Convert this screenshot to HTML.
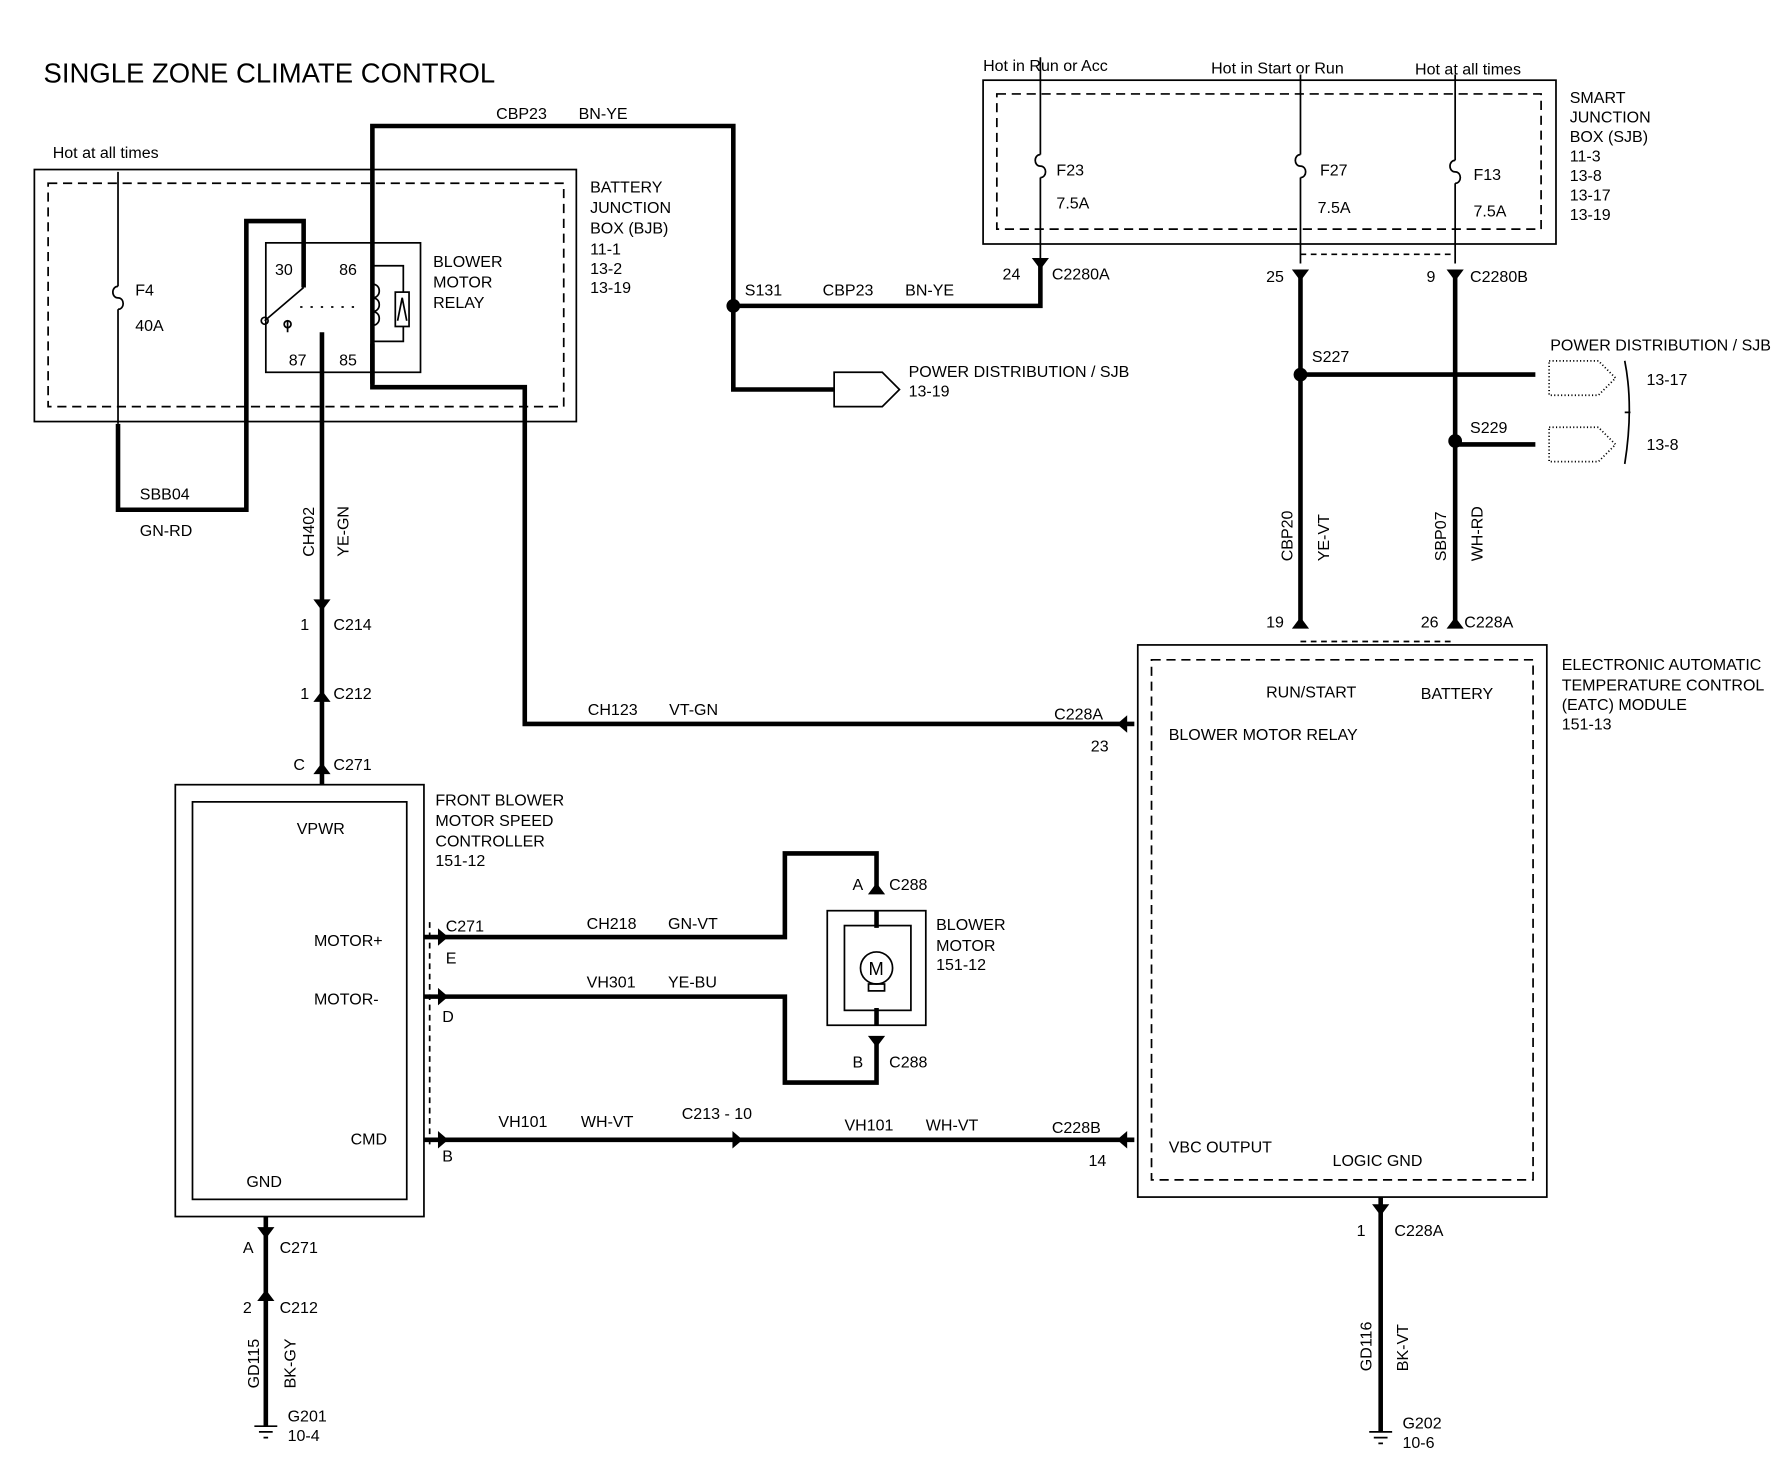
<!DOCTYPE html>
<html><head><style>body{margin:0;background:#fff}svg{display:block}</style></head><body>
<svg width="1784" height="1472" viewBox="0 0 1557 1285" preserveAspectRatio="none" xmlns="http://www.w3.org/2000/svg" font-family="Liberation Sans, sans-serif" font-size="14" font-stretch="condensed" fill="#000">
<g fill="none" stroke="#000" stroke-width="1.5">
<rect x="30" y="148" width="473" height="220"/>
<rect x="42" y="160" width="450" height="195" stroke-dasharray="8,5"/>
<rect x="232" y="212" width="135" height="113"/>
<rect x="345" y="255" width="12" height="30"/>
<path d="M325,232 H352 V255 M352,285 V298 H325"/>
<path d="M325,248 c8,0 8,12 0,12 c8,0 8,12 0,12 c8,0 8,12 0,12"/>
<path d="M347,280 l4,-20 l4,20"/>
<path d="M265,251 L231,280 M251,280 V290" />
<circle cx="231" cy="280" r="3"/><circle cx="251" cy="283" r="3"/>
<path d="M262,268 H310" stroke-dasharray="2,7"/>
<rect x="858" y="70" width="500" height="143"/>
<rect x="870" y="82" width="475" height="118" stroke-dasharray="8,5"/>
<path d="M103,150 V250 M103,270 V370"/>
<path d="M103,250 c-6,0 -6,10 0,10 M103,260 c6,0 6,10 0,10"/>
<path d="M908,50 V135 M908,155 V230"/>
<path d="M908,135 c-6,0 -6,10 0,10 M908,145 c6,0 6,10 0,10"/>
<path d="M1135,65 V135 M1135,155 V230"/>
<path d="M1135,135 c-6,0 -6,10 0,10 M1135,145 c6,0 6,10 0,10"/>
<path d="M1270,65 V140 M1270,160 V230"/>
<path d="M1270,140 c-6,0 -6,10 0,10 M1270,150 c6,0 6,10 0,10"/>
<path d="M1135,222 H1270 M1135,560 H1270" stroke-dasharray="5,4"/>
<rect x="153" y="685" width="217" height="377"/>
<rect x="168" y="700" width="187" height="347"/>
<path d="M375,805 V1000" stroke-dasharray="5,4"/>
<rect x="722" y="795" width="86" height="100"/>
<rect x="737" y="808" width="58" height="74"/>
<circle cx="765" cy="845" r="14"/>
<rect x="758" y="859" width="14" height="6"/>
<rect x="993" y="563" width="357" height="482"/>
<rect x="1005" y="576" width="333" height="454" stroke-dasharray="8,5"/>
<path d="M728,325 H770 L785,340 L770,355 H728 Z"/>
<path d="M1352,315 H1395 L1410,330 L1395,345 H1352 Z" stroke-dasharray="1,2"/>
<path d="M1352,373 H1395 L1410,388 L1395,403 H1352 Z" stroke-dasharray="1,2"/>
<path d="M1418,315 q8,40 0,90 M1418,360 h5"/>
<path d="M222,1245 H242 M226,1250 H238 M230,1255 H234 M1195,1250 H1215 M1199,1255 H1211 M1203,1260 H1207"/>
</g>
<g fill="none" stroke="#000" stroke-width="4">
<path d="M103,370 V445 H215 V193 H265 V251"/>
<path d="M325,335 V110 H640 V340 H728"/>
<path d="M640,267 H908 V230"/>
<path d="M325,300 V338 H458 V632 H990"/>
<path d="M281,290 V685"/>
<path d="M1135,240 V548 M1270,240 V548"/>
<path d="M1135,327 H1340 M1270,388 H1340"/>
<path d="M370,818 H685 V745 H765 V780 M765,810 V795"/>
<path d="M370,870 H685 V945 H765 V910 M765,895 V880"/>
<path d="M370,995 H990"/>
<path d="M232,1062 V1245 M1205,1045 V1250"/>
</g>
<g fill="#000"><circle cx="640" cy="267" r="6"/><circle cx="1135" cy="327" r="6"/><circle cx="1270" cy="385" r="6"/></g>
<g fill="#000" stroke="#000" stroke-width="1.5">
<path d="M902,226 l6,8 l6,-8 Z M1129,236 l6,8 l6,-8 Z M1264,236 l6,8 l6,-8 Z"/>
<path d="M1129,548 l6,-8 l6,8 Z M1264,548 l6,-8 l6,8 Z"/>
<path d="M275,524 l6,8 l6,-8 Z M275,612 l6,-8 l6,8 Z M275,675 l6,-8 l6,8 Z"/>
<path d="M759,780 l6,-8 l6,8 Z M759,905 l6,8 l6,-8 Z"/>
<path d="M983,626 l-7,6 l7,6 Z M983,989 l-7,6 l7,6 Z M383,812 l7,6 l-7,6 Z M383,864 l7,6 l-7,6 Z M383,989 l7,6 l-7,6 Z M640,989 l7,6 l-7,6 Z"/>
<path d="M226,1072 l6,8 l6,-8 Z M226,1135 l6,-8 l6,8 Z M1199,1052 l6,8 l6,-8 Z"/>
</g>
<text x="758" y="851" font-size="16">M</text>
<text x="38" y="72" font-size="24">SINGLE ZONE CLIMATE CONTROL</text>
<text x="46" y="138">Hot at all times</text>
<text x="118" y="258">F4</text><text x="118" y="289">40A</text>
<text x="240" y="240">30</text><text x="296" y="240">86</text>
<text x="252" y="319">87</text><text x="296" y="319">85</text>
<text x="378" y="233">BLOWER</text><text x="378" y="251">MOTOR</text><text x="378" y="269">RELAY</text>
<text x="515" y="168">BATTERY</text><text x="515" y="186">JUNCTION</text><text x="515" y="204">BOX (BJB)</text><text x="515" y="222">11-1</text><text x="515" y="239">13-2</text><text x="515" y="256">13-19</text>
<text x="433" y="104">CBP23</text><text x="505" y="104">BN-YE</text>
<text x="650" y="258">S131</text><text x="718" y="258">CBP23</text><text x="790" y="258">BN-YE</text>
<text x="793" y="329">POWER DISTRIBUTION / SJB</text><text x="793" y="346">13-19</text>
<text x="122" y="436">SBB04</text><text x="122" y="468">GN-RD</text>
<text transform="translate(274,486) rotate(-90)">CH402</text><text transform="translate(304,486) rotate(-90)">YE-GN</text>
<text x="262" y="550">1</text><text x="291" y="550">C214</text>
<text x="262" y="610">1</text><text x="291" y="610">C212</text>
<text x="256" y="672">C</text><text x="291" y="672">C271</text>
<text x="259" y="728">VPWR</text><text x="274" y="826">MOTOR+</text><text x="274" y="877">MOTOR-</text><text x="306" y="999">CMD</text><text x="215" y="1036">GND</text>
<text x="380" y="703">FRONT BLOWER</text><text x="380" y="721">MOTOR SPEED</text><text x="380" y="739">CONTROLLER</text><text x="380" y="756">151-12</text>
<text x="513" y="624">CH123</text><text x="584" y="624">VT-GN</text><text x="920" y="628">C228A</text><text x="952" y="656">23</text>
<text x="389" y="813">C271</text><text x="389" y="841">E</text><text x="386" y="892">D</text><text x="386" y="1014">B</text>
<text x="512" y="811">CH218</text><text x="583" y="811">GN-VT</text>
<text x="512" y="862">VH301</text><text x="583" y="862">YE-BU</text>
<text x="435" y="984">VH101</text><text x="507" y="984">WH-VT</text><text x="595" y="977">C213 - 10</text>
<text x="737" y="987">VH101</text><text x="808" y="987">WH-VT</text><text x="918" y="989">C228B</text><text x="950" y="1018">14</text>
<text x="744" y="777">A</text><text x="776" y="777">C288</text><text x="744" y="932">B</text><text x="776" y="932">C288</text>
<text x="817" y="812">BLOWER</text><text x="817" y="830">MOTOR</text><text x="817" y="847">151-12</text>
<text x="1020" y="646">BLOWER MOTOR RELAY</text><text x="1105" y="609">RUN/START</text><text x="1240" y="610">BATTERY</text>
<text x="1020" y="1006">VBC OUTPUT</text><text x="1163" y="1018">LOGIC GND</text>
<text x="1363" y="585">ELECTRONIC AUTOMATIC</text><text x="1363" y="603">TEMPERATURE CONTROL</text><text x="1363" y="620">(EATC) MODULE</text><text x="1363" y="637">151-13</text>
<text x="858" y="62">Hot in Run or Acc</text><text x="1057" y="64">Hot in Start or Run</text><text x="1235" y="65">Hot at all times</text>
<text x="1370" y="90">SMART</text><text x="1370" y="107">JUNCTION</text><text x="1370" y="124">BOX (SJB)</text><text x="1370" y="141">11-3</text><text x="1370" y="158">13-8</text><text x="1370" y="175">13-17</text><text x="1370" y="192">13-19</text>
<text x="922" y="153">F23</text><text x="922" y="182">7.5A</text><text x="1152" y="153">F27</text><text x="1150" y="186">7.5A</text><text x="1286" y="157">F13</text><text x="1286" y="189">7.5A</text>
<text x="875" y="244">24</text><text x="918" y="244">C2280A</text><text x="1105" y="246">25</text><text x="1245" y="246">9</text><text x="1283" y="246">C2280B</text>
<text x="1145" y="316">S227</text><text x="1283" y="378">S229</text>
<text x="1353" y="306">POWER DISTRIBUTION / SJB</text><text x="1437" y="336">13-17</text><text x="1437" y="393">13-8</text>
<text transform="translate(1128,490) rotate(-90)">CBP20</text><text transform="translate(1160,490) rotate(-90)">YE-VT</text>
<text transform="translate(1262,490) rotate(-90)">SBP07</text><text transform="translate(1294,490) rotate(-90)">WH-RD</text>
<text x="1105" y="548">19</text><text x="1240" y="548">26</text><text x="1278" y="548">C228A</text>
<text x="212" y="1094">A</text><text x="244" y="1094">C271</text><text x="212" y="1146">2</text><text x="244" y="1146">C212</text>
<text transform="translate(226,1212) rotate(-90)">GD115</text><text transform="translate(258,1212) rotate(-90)">BK-GY</text>
<text x="251" y="1241">G201</text><text x="251" y="1258">10-4</text>
<text x="1184" y="1079">1</text><text x="1217" y="1079">C228A</text>
<text transform="translate(1197,1197) rotate(-90)">GD116</text><text transform="translate(1229,1197) rotate(-90)">BK-VT</text>
<text x="1224" y="1247">G202</text><text x="1224" y="1264">10-6</text>
</svg>
</body></html>
